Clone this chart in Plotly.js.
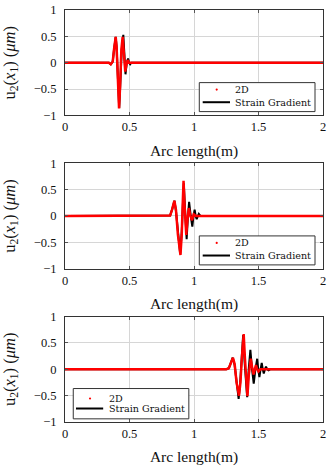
<!DOCTYPE html>
<html>
<head>
<meta charset="utf-8">
<script src="https://cdn.plot.ly/plotly-3.0.1.min.js"></script>
<style>
html,body{margin:0;padding:0;background:#fff;}
#chart{width:332px;height:468px;}
</style>
</head>
<body>
<div id="chart"></div>
<script>
// Panel 1
const x1_2d = [0, 0.34, 0.355, 0.37, 0.38, 0.393, 0.40, 0.41, 0.419, 0.427, 0.437, 0.447, 0.455, 0.467, 0.477, 0.486, 0.495, 0.51, 2];
const y1_2d = [0, 0, -0.03, 0.02, 0.25, 0.49, 0.30, -0.45, -0.87, -0.45, 0.25, 0.49, 0.15, -0.17, -0.02, 0.05, 0.0, 0, 0];
const x1_sg = [0, 0.34, 0.355, 0.37, 0.38, 0.393, 0.40, 0.41, 0.42, 0.428, 0.44, 0.452, 0.46, 0.469, 0.479, 0.489, 0.497, 0.505, 0.515, 2];
const y1_sg = [0, 0, -0.03, 0.02, 0.25, 0.49, 0.30, -0.45, -0.86, -0.45, 0.25, 0.53, 0.10, -0.22, 0.0, 0.08, 0.0, -0.03, 0, 0];
// Panel 2
const x2_2d = [0, 0.80, 0.815, 0.83, 0.848, 0.86, 0.875, 0.895, 0.905, 0.912, 0.919, 0.927, 0.94, 0.95, 0.96, 0.972, 0.985, 0.998, 1.015, 2];
const y2_2d = [0, 0, 0.01, 0.12, 0.29, 0.12, -0.35, -0.74, -0.35, 0.20, 0.67, 0.20, -0.36, -0.05, 0.15, 0.0, -0.08, 0.03, 0, 0];
const x2_sg = [0, 0.80, 0.815, 0.83, 0.848, 0.86, 0.875, 0.893, 0.905, 0.913, 0.921, 0.93, 0.943, 0.952, 0.962, 0.975, 0.987, 0.996, 1.005, 1.013, 1.021, 1.03, 1.037, 1.05, 2];
const y2_sg = [0, 0, 0.01, 0.12, 0.29, 0.10, -0.35, -0.72, -0.30, 0.25, 0.62, 0.15, -0.44, -0.05, 0.27, 0.0, -0.20, 0.0, 0.12, 0.0, -0.06, 0.0, 0.04, 0, 0];
// Panel 3
const x3_2d = [0, 1.25, 1.27, 1.285, 1.302, 1.315, 1.33, 1.349, 1.36, 1.372, 1.385, 1.395, 1.405, 1.414, 1.425, 1.44, 1.45, 1.462, 1.472, 1.48, 1.49, 1.50, 1.515, 2];
const y3_2d = [0, 0, 0.02, 0.12, 0.22, 0.10, -0.25, -0.50, -0.25, 0.25, 0.67, 0.20, -0.25, -0.51, -0.10, 0.20, 0.05, -0.10, 0.0, 0.08, 0.0, -0.04, 0, 0];
const x3_sg = [0, 1.25, 1.27, 1.285, 1.30, 1.315, 1.33, 1.346, 1.358, 1.37, 1.381, 1.392, 1.402, 1.412, 1.424, 1.437, 1.45, 1.463, 1.476, 1.49, 1.498, 1.507, 1.516, 1.525, 1.533, 1.541, 1.55, 1.558, 1.568, 1.578, 1.59, 2];
const y3_sg = [0, 0, 0.02, 0.12, 0.22, 0.08, -0.30, -0.56, -0.25, 0.25, 0.65, 0.15, -0.30, -0.53, 0.0, 0.37, 0.0, -0.27, 0.0, 0.20, 0.0, -0.15, 0.0, 0.12, 0.0, -0.08, 0.0, 0.05, 0.0, -0.02, 0, 0];

const names = ['2D', 'Strain Gradient'];
const xTitle = 'Arc length(m)';
const yTitle = 'u<sub>2</sub>(<i>x</i><sub>1</sub>) (<i>μm</i>)';

const panels = [
  {x2d: x1_2d, y2d: y1_2d, xsg: x1_sg, ysg: y1_sg},
  {x2d: x2_2d, y2d: y2_2d, xsg: x2_sg, ysg: y2_sg},
  {x2d: x3_2d, y2d: y3_2d, xsg: x3_sg, ysg: y3_sg}
];

// legend boxes (fractions of each panel's domain)
const legendBoxes = [
  {x0: 0.5205, x1: 0.969, y0: 0.036, y1: 0.311, dot: 0.588, l0: 0.5337, l1: 0.6395, tx: 0.651, r1: 0.2445, r2: 0.125},
  {x0: 0.5205, x1: 0.969, y0: 0.036, y1: 0.311, dot: 0.588, l0: 0.5337, l1: 0.6395, tx: 0.651, r1: 0.2445, r2: 0.125},
  {x0: 0.032, x1: 0.48, y0: 0.030, y1: 0.3175, dot: 0.097, l0: 0.0426, l1: 0.148, tx: 0.1616, r1: 0.223, r2: 0.128}
];

const traces = [];
const shapes = [];
const annotations = [];
const legFont = {family: 'DejaVu Serif, serif', size: 9.6, color: '#111'};
panels.forEach((p, i) => {
  const sfx = i === 0 ? '' : String(i + 1);
  const xr = 'x' + sfx, yr = 'y' + sfx;
  traces.push({x: p.xsg, y: p.ysg, xaxis: xr, yaxis: yr, mode: 'lines', name: names[1],
    line: {color: '#000000', width: 2}});
  traces.push({x: p.x2d, y: p.y2d, xaxis: xr, yaxis: yr, mode: 'lines', name: names[0],
    line: {color: '#ff0000', width: 2.5}});
  const b = legendBoxes[i];
  const xd = xr + ' domain', yd = yr + ' domain';
  shapes.push({type: 'rect', xref: xd, yref: yd, x0: b.x0, x1: b.x1, y0: b.y0, y1: b.y1,
    fillcolor: '#ffffff', line: {color: '#333', width: 1}, layer: 'above'});
  shapes.push({type: 'circle', xref: xd, yref: yd, xsizemode: 'pixel', ysizemode: 'pixel',
    xanchor: b.dot, yanchor: b.r1, x0: -1.1, x1: 1.1, y0: -1.1, y1: 1.1,
    fillcolor: '#ff0000', line: {width: 0}, layer: 'above'});
  shapes.push({type: 'line', xref: xd, yref: yd, x0: b.l0, x1: b.l1, y0: b.r2, y1: b.r2,
    line: {color: '#000', width: 2}, layer: 'above'});
  annotations.push({xref: xd, yref: yd, x: b.tx, y: b.r1, xanchor: 'left', yanchor: 'middle',
    text: names[0], showarrow: false, font: legFont});
  annotations.push({xref: xd, yref: yd, x: b.tx, y: b.r2, xanchor: 'left', yanchor: 'middle',
    text: names[1], showarrow: false, font: legFont});
});

const font = 'Liberation Serif, Times New Roman, serif';
function xa(anchor) {
  return {range: [0, 2], dtick: 0.5, tick0: 0, anchor: anchor, showgrid: true, gridcolor: '#d6d6d6', gridwidth: 1,
    zeroline: false, showline: true, mirror: 'ticks', linecolor: '#333', linewidth: 1,
    ticks: 'inside', ticklen: 3, tickcolor: '#555', tickfont: {family: font, size: 12.5, color: '#111'},
    title: {text: xTitle, font: {family: font, size: 15.5, color: '#111'}, standoff: 11}};
}
function ya(anchor, domain) {
  return {range: [-1, 1], dtick: 0.5, tick0: 0, anchor: anchor, domain: domain, showgrid: true, gridcolor: '#d6d6d6', gridwidth: 1,
    zeroline: false, showline: true, mirror: 'ticks', linecolor: '#333', linewidth: 1,
    ticks: 'inside', ticklen: 3, tickcolor: '#555', tickfont: {family: font, size: 12.5, color: '#111'}, ticklabelstandoff: 5,
    title: {text: yTitle, font: {family: font, size: 16.5, color: '#111'}, standoff: 14}};
}

const layout = {
  width: 332, height: 468,
  margin: {l: 65, r: 9, t: 10, b: 45.5},
  paper_bgcolor: '#fff', plot_bgcolor: '#fff',
  showlegend: false,
  xaxis: xa('y'), yaxis: ya('x', [0.7442, 1]),
  xaxis2: xa('y2'), yaxis2: ya('x2', [0.3721, 0.6279]),
  xaxis3: xa('y3'), yaxis3: ya('x3', [0, 0.2558]),
  shapes: shapes,
  annotations: annotations
};

Plotly.newPlot('chart', traces, layout, {displayModeBar: false, staticPlot: true});
</script>
</body>
</html>
